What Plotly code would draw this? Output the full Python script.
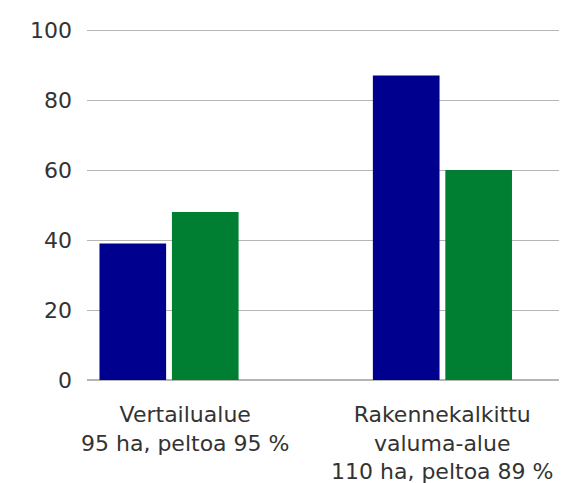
import plotly.graph_objects as go

categories = ["Vertailualue", "Rakennekalkittu valuma-alue"]
cat_labels = ["Vertailualue<br>95 ha, peltoa 95 %", "Rakennekalkittu<br>valuma-alue<br>110 ha, peltoa 89 %"]
label_shift = [16, 0]
series_a = [39, 87]
series_b = [48, 60]

fig = go.Figure()
fig.add_trace(go.Bar(x=categories, y=series_a, marker=dict(color="#00008f", line=dict(width=0))))
fig.add_trace(go.Bar(x=categories, y=series_b, marker=dict(color="#007f33", line=dict(width=0))))

# category labels as annotations so each can be nudged
for cat, lab, dx in zip(categories, cat_labels, label_shift):
    fig.add_annotation(x=cat, y=0, xref="x", yref="y", text=lab, showarrow=False,
                       yanchor="top", xanchor="center", align="center",
                       xshift=dx, yshift=-20,
                       font=dict(family="DejaVu Sans", size=22, color="#333333"))

# page body has an 8px margin, so the figure is 8px smaller than the window
fig.update_layout(
    width=559, height=475,
    barmode="group", bargap=0.47, bargroupgap=0.08,
    showlegend=False,
    plot_bgcolor="white", paper_bgcolor="white",
    font=dict(family="DejaVu Sans", size=22, color="#333333"),
    margin=dict(l=79, r=7, t=20, b=103),
    xaxis=dict(range=[-0.3, 1.43], showgrid=False, ticks="", showticklabels=False, automargin=False),
    yaxis=dict(range=[0, 100.6], tickvals=[0, 20, 40, 60, 80, 100], showgrid=True,
               gridcolor="#b5b5b5", gridwidth=1, zeroline=True, zerolinecolor="#b5b5b5",
               ticks="", ticklabelstandoff=14, automargin=False),
)

fig.write_html("out.html")
